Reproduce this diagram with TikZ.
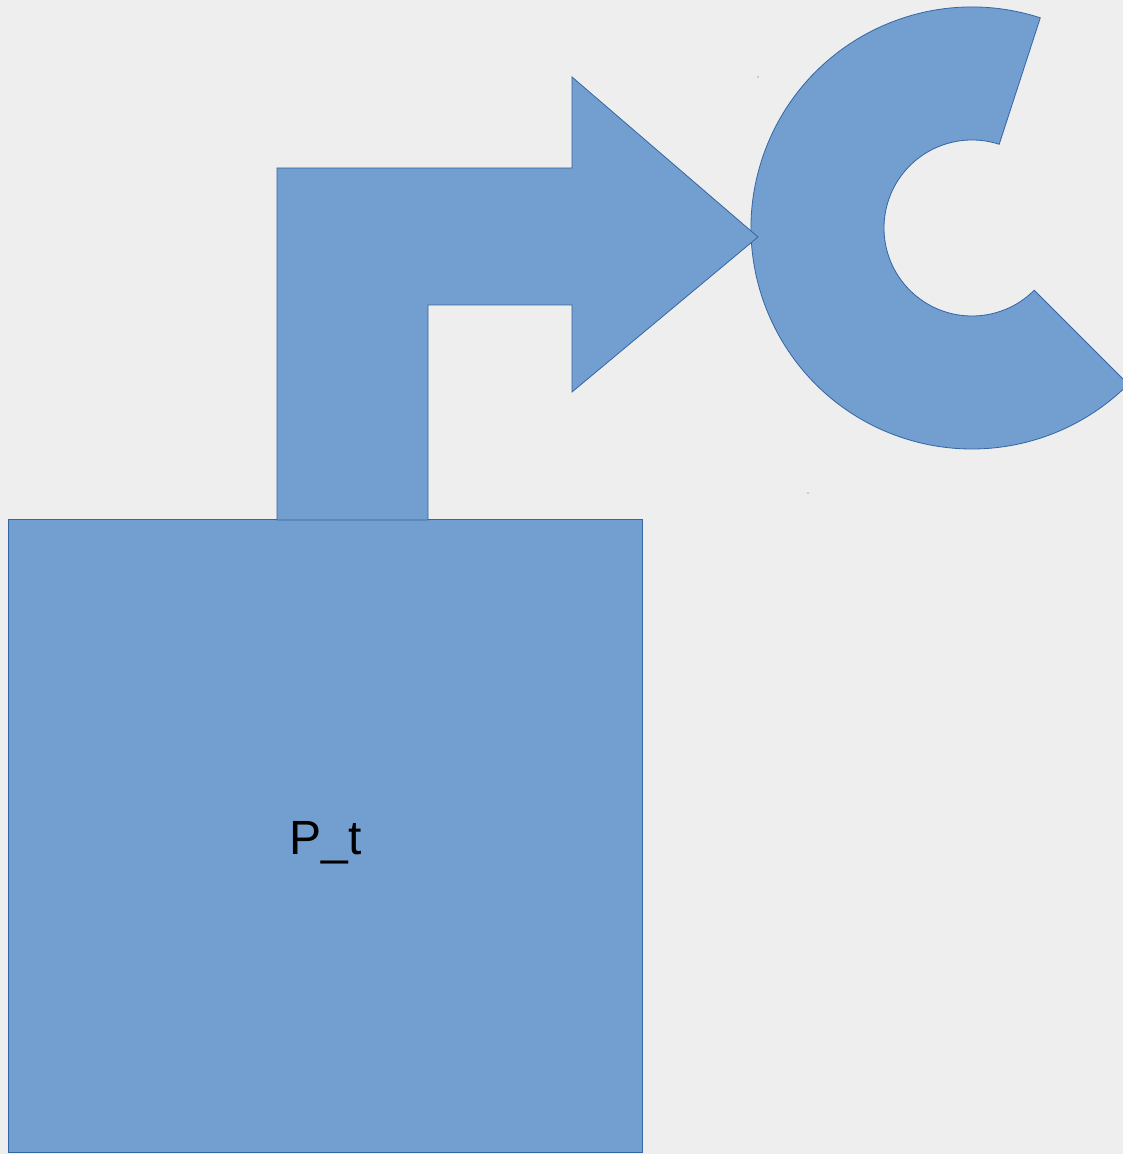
\documentclass[tikz,border=0pt]{standalone}
\usepackage{fontspec}
\setmainfont{Liberation Sans}
\usetikzlibrary{calc}
\definecolor{bg}{HTML}{EEEEEE}
\definecolor{shapefill}{HTML}{729FCF}
\definecolor{shapeline}{HTML}{3465A4}
\begin{document}
\begin{tikzpicture}[x=1pt,y=1pt,
  blockshape/.style={fill=shapefill,draw=shapeline,line width=0.8pt,line join=miter},
  dotmark/.style={fill=shapeline}]
\fill[bg] (0,0) rectangle (1123,1154);
\useasboundingbox (0,0) rectangle (1123,1154);
% block arc
\coordinate (cc) at (972,926);
\draw[blockshape] ($(cc)+(72:221)$) arc[start angle=72,end angle=315,radius=221]
  -- ($(cc)+(315:88)$) arc[start angle=315,end angle=72,radius=88] -- cycle;
% square
\node[blockshape,minimum width=634pt,minimum height=633pt,inner sep=0pt,anchor=south west] (sq) at (8,1) {};
\node[anchor=base,font=\fontsize{48}{58}\selectfont,inner sep=0pt] (lbl) at (325.5,299) {P\_t};
% bent-up arrow
\draw[blockshape] (277,634) -- (277,986) -- (572,986) -- (572,1077) -- (758,917) -- (572,762) -- (572,849) -- (428,849) -- (428,634) -- cycle;
% tiny dots
\fill[dotmark] (758,1077) circle (0.7);
\fill[dotmark] (808,661) circle (0.7);
\end{tikzpicture}
\end{document}
